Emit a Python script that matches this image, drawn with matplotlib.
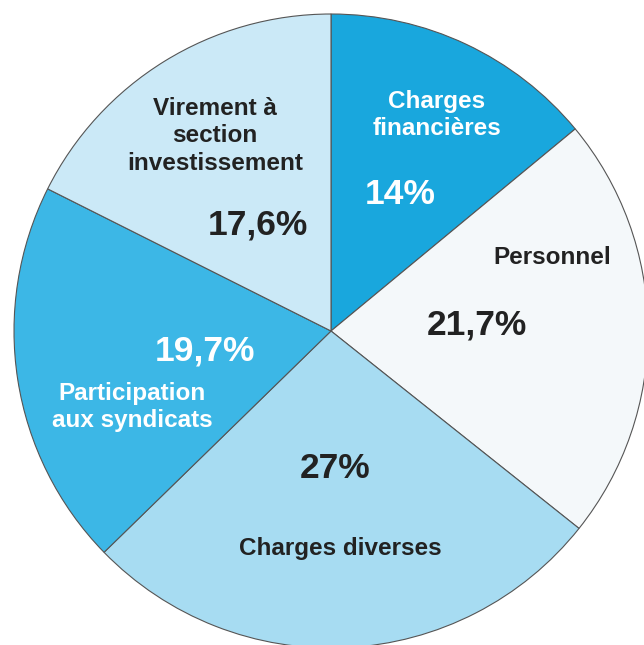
import matplotlib.pyplot as plt

labels = ['Charges\nfinancières', 'Personnel', 'Charges diverses',
          'Participation\naux syndicats', 'Virement à\nsection\ninvestissement']
values = [14, 21.7, 27, 19.7, 17.6]
pct_text = ['14%', '21,7%', '27%', '19,7%', '17,6%']
colors = ['#19a7dd', '#f4f8fa', '#a7dcf2', '#3cb7e6', '#cbe9f7']
text_colors = ['white', '#222222', '#222222', 'white', '#222222']

# label / percent positions in pixel offsets from the pie centre
label_pos = [(106, 216), (221, 74), (9, -217), (-199, -76), (-116, 195)]
pct_pos = [(69, 136), (146, 6), (4, -137), (-126, -20), (-73, 106)]

plt.rcParams['font.family'] = ['Liberation Sans', 'DejaVu Sans']

fig = plt.figure(figsize=(6.44, 6.45), dpi=100)
ax = fig.add_axes([0, 0, 1, 1])
ax.pie(values, colors=colors, startangle=90, counterclock=False, radius=317,
       wedgeprops=dict(edgecolor='#555555', linewidth=0.8))
ax.set_xlim(-331, 313)
ax.set_ylim(-314, 331)
ax.set_aspect('equal')
ax.axis('off')

for lab, pct, c, lp, pp in zip(labels, pct_text, text_colors, label_pos, pct_pos):
    ax.text(lp[0], lp[1], lab, ha='center', va='center', color=c,
            fontsize=17.5, fontweight='bold', linespacing=1.25)
    ax.text(pp[0], pp[1], pct, ha='center', va='center', color=c,
            fontsize=25.5, fontweight='bold')

fig.savefig('out.png', dpi=100)
